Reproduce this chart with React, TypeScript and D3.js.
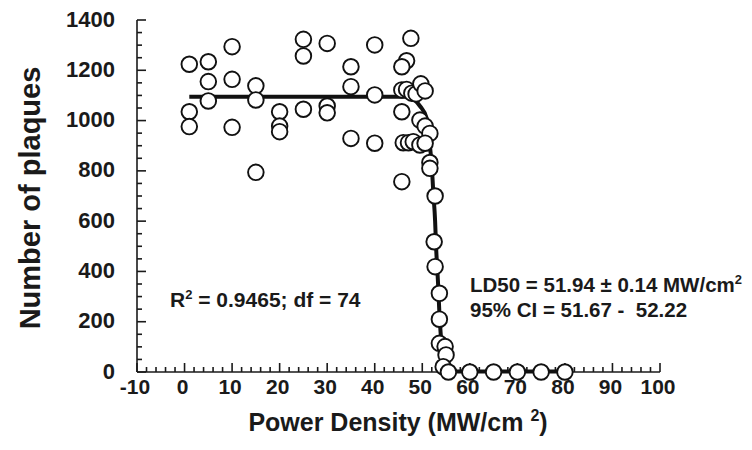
import React, { useEffect, useRef } from 'react';
import * as d3 from 'd3';

// tick values
const xTicks = [-10, 0, 10, 20, 30, 40, 50, 60, 70, 80, 90, 100];
const yTicks = [0, 200, 400, 600, 800, 1000, 1200, 1400];

// measured points (power density, plaque count)
const powerDensity = [
  1, 1, 1,
  5, 5, 5,
  10, 10, 10,
  15, 15, 15,
  20, 20, 20,
  25, 25, 25,
  30, 30, 30,
  35, 35, 35,
  40, 40, 40,
  47.6, 46.7, 45.7, 45.7, 46.7, 47.8, 48.7, 49.7, 50.6, 45.7,
  49.5, 50.6, 51.6, 46.0, 47.1, 48.1, 49.5, 50.6, 45.7, 51.6,
  51.6, 52.7, 52.5, 52.7, 53.6, 53.6, 53.6, 54.8, 55.0, 54.4,
  55.5, 60, 65, 70, 75, 80,
];
const plaques = [
  1224, 1035, 976,
  1234, 1155, 1078,
  1294, 1164, 973,
  1138, 1082, 794,
  1035, 978, 956,
  1323, 1257, 1045,
  1307, 1058, 1031,
  1214, 1135, 929,
  1301, 1102, 910,
  1327, 1238, 1214, 1122, 1124, 1109, 1106, 1146, 1118, 1035,
  1002, 978, 949, 912, 912, 916, 903, 910, 757, 833,
  810, 700, 518, 419, 313, 210, 114, 101, 68, 21,
  0, 0, 0, 0, 0, 0,
];

// fitted curve
const fitDensity = [1, 46.7, 48.5, 49.5, 50.9, 51.6, 52.0, 52.3, 52.7, 52.9, 53.3, 53.6, 54.1, 54.6, 55.3, 56, 80];
const fitPlaques = [1095, 1095, 1080, 1058, 1010, 900, 820, 720, 600, 500, 360, 235, 100, 30, 5, 2, 2];

const font = '"Liberation Sans", Arial, Helvetica, sans-serif';

function App() {
  const svgRef = useRef<SVGSVGElement>(null);

  useEffect(() => {
    if (!svgRef.current) return;
    const width = 752;
    const height = 450;

    const svg = d3.select(svgRef.current);
    svg.selectAll('*').remove();
    svg.attr('width', width).attr('height', height).style('font-family', font);

    const x = d3.scaleLinear().domain([-10, 100]).range([137, 660]);
    const y = d3.scaleLinear().domain([0, 1400]).range([372, 20]);

    const axis = svg.append('g').attr('stroke', '#1a1a1a').attr('stroke-width', 1.6);

    // axis lines
    axis.append('line')
      .attr('x1', x(-10)).attr('x2', x(-10))
      .attr('y1', y(0)).attr('y2', y(1400));
    axis.append('line')
      .attr('x1', x(-10)).attr('x2', x(100))
      .attr('y1', y(0)).attr('y2', y(0));

    // y ticks (inward)
    d3.range(0, 1401, 50).forEach(v => {
      const major = v % 200 === 0;
      axis.append('line')
        .attr('x1', x(-10)).attr('x2', x(-10) + (major ? 9 : 5))
        .attr('y1', y(v)).attr('y2', y(v));
    });

    // x ticks (inward)
    d3.range(-10, 100.1, 2).forEach(v => {
      const major = v % 10 === 0;
      axis.append('line')
        .attr('x1', x(v)).attr('x2', x(v))
        .attr('y1', y(0)).attr('y2', y(0) - (major ? 9 : 5));
    });

    // tick labels
    svg.append('g').selectAll('text')
      .data(yTicks)
      .join('text')
      .attr('x', 115)
      .attr('y', d => y(d))
      .attr('dy', '0.3em')
      .attr('text-anchor', 'end')
      .attr('font-size', 22)
      .attr('font-weight', 'bold')
      .attr('fill', '#1a1a1a')
      .text(d => d);

    svg.append('g').selectAll('text')
      .data(xTicks)
      .join('text')
      .attr('x', d => x(d) - 2)
      .attr('y', 394)
      .attr('text-anchor', 'middle')
      .attr('font-size', 21)
      .attr('font-weight', 'bold')
      .attr('fill', '#1a1a1a')
      .text(d => d);

    // axis titles
    svg.append('text')
      .attr('transform', `translate(40, 198) rotate(-90)`)
      .attr('text-anchor', 'middle')
      .attr('font-size', 29)
      .attr('font-weight', 'bold')
      .attr('fill', '#1a1a1a')
      .text('Number of plaques');

    const xTitle = svg.append('text')
      .attr('x', 398)
      .attr('y', 431)
      .attr('text-anchor', 'middle')
      .attr('font-size', 25)
      .attr('font-weight', 'bold')
      .attr('fill', '#1a1a1a');
    xTitle.append('tspan').text('Power Density (MW/cm ');
    xTitle.append('tspan').attr('font-size', 16).attr('dy', -10).text('2');
    xTitle.append('tspan').attr('dy', 10).text(')');

    // fitted curve
    const fit = fitDensity.map((d, i) => [d, fitPlaques[i]] as [number, number]);
    const line = d3.line<[number, number]>()
      .x(d => x(d[0]))
      .y(d => y(d[1]))
      .curve(d3.curveMonotoneX);
    svg.append('path')
      .attr('d', line(fit))
      .attr('fill', 'none')
      .attr('stroke', '#111')
      .attr('stroke-width', 4);

    // data points
    const pts = powerDensity.map((d, i) => [d, plaques[i]] as [number, number]);
    svg.append('g').selectAll('circle')
      .data(pts)
      .join('circle')
      .attr('cx', d => x(d[0]))
      .attr('cy', d => y(d[1]))
      .attr('r', 7.8)
      .attr('fill', '#fff')
      .attr('stroke', '#111')
      .attr('stroke-width', 1.9);

    // annotations
    const r2 = svg.append('text')
      .attr('x', 170).attr('y', 307)
      .attr('font-size', 21).attr('font-weight', 'bold').attr('fill', '#1a1a1a');
    r2.append('tspan').text('R');
    r2.append('tspan').attr('font-size', 13).attr('dy', -8).text('2');
    r2.append('tspan').attr('dy', 8).text(' = 0.9465; df = 74');

    const ld = svg.append('text')
      .attr('x', 470).attr('y', 292)
      .attr('font-size', 20.5).attr('font-weight', 'bold').attr('fill', '#1a1a1a');
    ld.append('tspan').text('LD50 = 51.94 \u00b1 0.14 MW/cm');
    ld.append('tspan').attr('font-size', 13).attr('dy', -8).text('2');

    svg.append('text')
      .attr('x', 470).attr('y', 317)
      .attr('font-size', 20.5).attr('font-weight', 'bold').attr('fill', '#1a1a1a')
      .style('white-space', 'pre')
      .text('95% CI = 51.67 -  52.22');
  }, []);

  return (
    <div style={{ position: 'absolute', left: 0, top: 0, width: 752, height: 450, background: '#fff' }}>
      <svg ref={svgRef}></svg>
    </div>
  );
}

export default App;
